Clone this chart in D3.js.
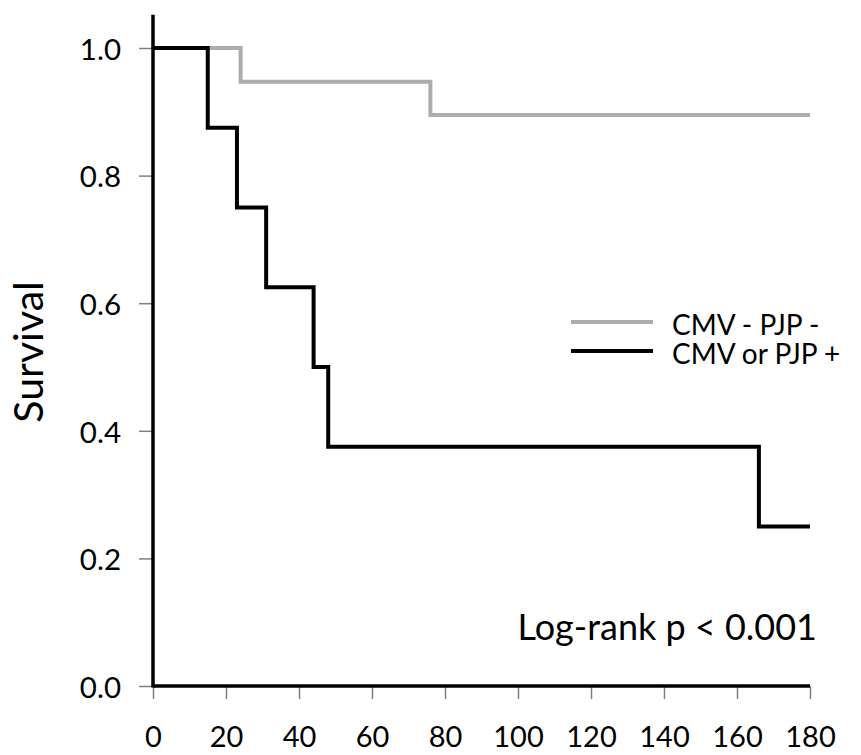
<!DOCTYPE html>
<html>
<head>
<meta charset="utf-8">
<script src="https://cdn.jsdelivr.net/npm/d3@7"></script>
<style>
  body { margin: 0; background: #fff; }
  text { font-family: Lato, "Open Sans", sans-serif; fill: #000; }
</style>
</head>
<body>
<svg id="chart" width="861" height="755"></svg>
<script>
  // survival curves
  const neg_time = [0, 24, 76, 180];
  const neg_surv = [1, 0.947, 0.895, 0.895];
  const pos_time = [0, 15, 23, 31, 44, 48, 166, 180];
  const pos_surv = [1, 0.875, 0.75, 0.625, 0.5, 0.375, 0.25, 0.25];
  const x_ticks = [0, 20, 40, 60, 80, 100, 120, 140, 160, 180];
  const y_ticks = [0, 0.2, 0.4, 0.6, 0.8, 1.0];
  const legend_labels = ["CMV - PJP -", "CMV or PJP +"];

  let svg = d3.select("#chart");

  let x = d3.scaleLinear().domain([0, 180]).range([153, 810]);
  let y = d3.scaleLinear().domain([0, 1]).range([686, 48]);

  function draw_axes() {
    let y_axis = d3.axisLeft(y).tickValues(y_ticks).tickFormat(d3.format(".1f"))
      .tickSize(14).tickSizeOuter(0).tickPadding(18);
    let gy = svg.append("g").attr("transform", `translate(${x(0)}, 0)`).call(y_axis);
    gy.select(".domain").remove();
    gy.selectAll(".tick line").attr("stroke", "#7f7f7f").attr("stroke-width", 1.5);
    gy.selectAll(".tick text").attr("font-size", 29.5).attr("dy", "0.38em")
      .attr("font-family", "Lato");

    let x_axis = d3.axisBottom(x).tickValues(x_ticks).tickFormat(d3.format("d"))
      .tickSize(13).tickSizeOuter(0);
    let gx = svg.append("g").attr("transform", `translate(0, ${y(0)})`).call(x_axis);
    gx.select(".domain").remove();
    gx.selectAll(".tick line").attr("stroke", "#7f7f7f").attr("stroke-width", 1.5);
    gx.selectAll(".tick text").attr("font-size", 29).attr("y", 61).attr("dy", 0)
      .attr("font-family", "Lato");

    // heavy axis lines
    svg.append("line")
      .attr("x1", x(0)).attr("x2", x(0))
      .attr("y1", y(0) + 1.5).attr("y2", y(1.052))
      .attr("stroke", "#000").attr("stroke-width", 3.5);
    svg.append("line")
      .attr("x1", x(0)).attr("x2", x(180))
      .attr("y1", y(0)).attr("y2", y(0))
      .attr("stroke", "#000").attr("stroke-width", 3.5);
  }

  function draw_curves() {
    let step = d3.line()
      .x(d => x(d[0]))
      .y(d => y(d[1]))
      .curve(d3.curveStepAfter);

    svg.append("path")
      .datum(d3.zip(neg_time, neg_surv))
      .attr("d", step)
      .attr("fill", "none").attr("stroke", "#adadad").attr("stroke-width", 4);

    svg.append("path")
      .datum(d3.zip(pos_time, pos_surv))
      .attr("d", step)
      .attr("fill", "none").attr("stroke", "#000").attr("stroke-width", 4);
  }

  function draw_labels() {
    svg.append("text")
      .attr("transform", `translate(43, ${352}) rotate(-90)`)
      .attr("text-anchor", "middle")
      .attr("font-size", 41)
      .text("Survival");

    svg.append("text")
      .attr("x", 817).attr("y", 640)
      .attr("text-anchor", "end")
      .attr("font-size", 36)
      .text("Log-rank p < 0.001");

    let colors = ["#adadad", "#000"];
    legend_labels.forEach((label, i) => {
      let ly = 322 + i * 29;
      svg.append("line")
        .attr("x1", 571).attr("x2", 653)
        .attr("y1", ly).attr("y2", ly)
        .attr("stroke", colors[i]).attr("stroke-width", 4);
      svg.append("text")
        .attr("x", 672).attr("y", ly + 13)
        .attr("font-size", 28)
        .text(label);
    });
  }

  draw_axes();
  draw_curves();
  draw_labels();
</script>
</body>
</html>
